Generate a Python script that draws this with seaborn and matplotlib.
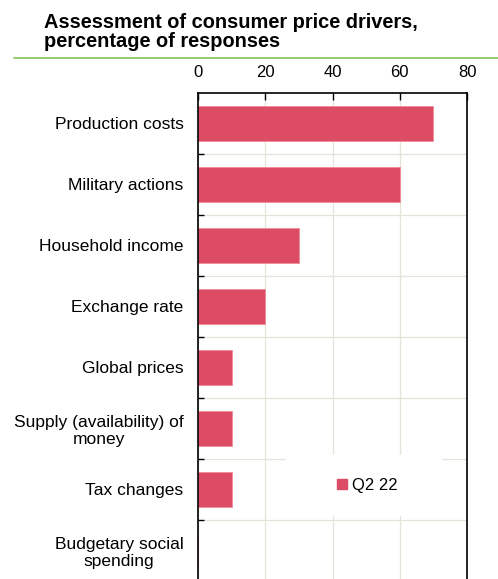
import matplotlib
matplotlib.use("Agg")
import matplotlib.pyplot as plt
import seaborn as sns
import pandas as pd
from matplotlib.lines import Line2D
from matplotlib.patches import Rectangle

categories = ["Production costs", "Military actions", "Household income",
              "Exchange rate", "Global prices", "Supply (availability) of\nmoney",
              "Tax changes", "Budgetary social\nspending"]
values = [70, 60, 30, 20, 10, 10, 10, 0]
series_name = "Q2 22"
x_ticks = [0, 20, 40, 60, 80]
title_lines = ["Assessment of consumer price drivers,", "percentage of responses"]

sns.set_theme(style="white")
plt.rcParams['font.family'] = ['Liberation Sans', 'DejaVu Sans']
plt.rcParams['text.color'] = 'black'

W, H = 498, 579
fig = plt.figure(figsize=(W / 100, H / 100), dpi=100)
ax_left, ax_right = 198 / W, 467 / W
ax_top_px, ax_bot_px = 92.9, 580.9
ax = fig.add_axes([ax_left, 1 - ax_bot_px / H, ax_right - ax_left, (ax_bot_px - ax_top_px) / H])

bar_color = "#DC4C64"
df = pd.DataFrame({"category": categories, "value": values})
sns.barplot(data=df, x="value", y="category", orient="h", color=bar_color,
            width=0.58, edgecolor="#F08A9A", linewidth=0.6, saturation=1, ax=ax)

ax.set_xlim(0, 80)
ax.set_ylim(len(categories) - 0.5, -0.5)
ax.set_xlabel("")
ax.set_ylabel("")

# x axis on top
ax.xaxis.tick_top()
ax.set_xticks(x_ticks)
ax.set_xticklabels([str(t) for t in x_ticks])
ax.tick_params(axis="x", which="major", direction="in", length=5, width=1,
               color="black", labelsize=12, pad=9, top=True, bottom=False,
               labelcolor="black")

# y: labels at centers, ticks at boundaries
ax.set_yticks(range(len(categories)))
ax.set_yticklabels(categories, multialignment="center")
ax.set_yticks([i + 0.5 for i in range(len(categories) - 1)], minor=True)
ax.tick_params(axis="y", which="major", length=0, labelsize=12.5, pad=10.5,
               labelcolor="black")
ax.tick_params(axis="y", which="minor", direction="in", length=4, width=1,
               color="black", left=True)

ax.set_axisbelow(True)
ax.grid(False)
ax.xaxis.grid(True, which="major", color="#E4E4DA", linewidth=0.9)
ax.yaxis.grid(True, which="minor", color="#E4E4DA", linewidth=0.9)

for s in ["top", "left", "right"]:
    ax.spines[s].set_visible(True)
    ax.spines[s].set_color("black")
    ax.spines[s].set_linewidth(1.2)
ax.spines["bottom"].set_visible(False)

# legend background and entry
ax.add_patch(Rectangle((0.327, 0.133), 0.58, 0.125, transform=ax.transAxes,
                       facecolor="white", edgecolor="none", zorder=0.8))
handle = Line2D([], [], marker="s", linestyle="none", color=bar_color, markersize=6.5)
leg = ax.legend([handle], [series_name], loc="center", bbox_to_anchor=(0.628, 0.1965),
                frameon=False, fontsize=12, handlelength=0.6, handletextpad=0.3,
                borderpad=0, borderaxespad=0)
for t in leg.get_texts():
    t.set_color("black")

# title
fig.text(44 / W, 1 - 27.5 / H, title_lines[0], fontsize=14.4, fontweight="bold",
         ha="left", va="baseline", color="black")
fig.text(44 / W, 1 - 47.0 / H, title_lines[1], fontsize=14.4, fontweight="bold",
         ha="left", va="baseline", color="black")
fig.add_artist(Line2D([14 / W, 1.0], [1 - 57.5 / H, 1 - 57.5 / H],
                      transform=fig.transFigure, color="#8CC866", linewidth=1.3))

fig.savefig("out.png", dpi=100)
